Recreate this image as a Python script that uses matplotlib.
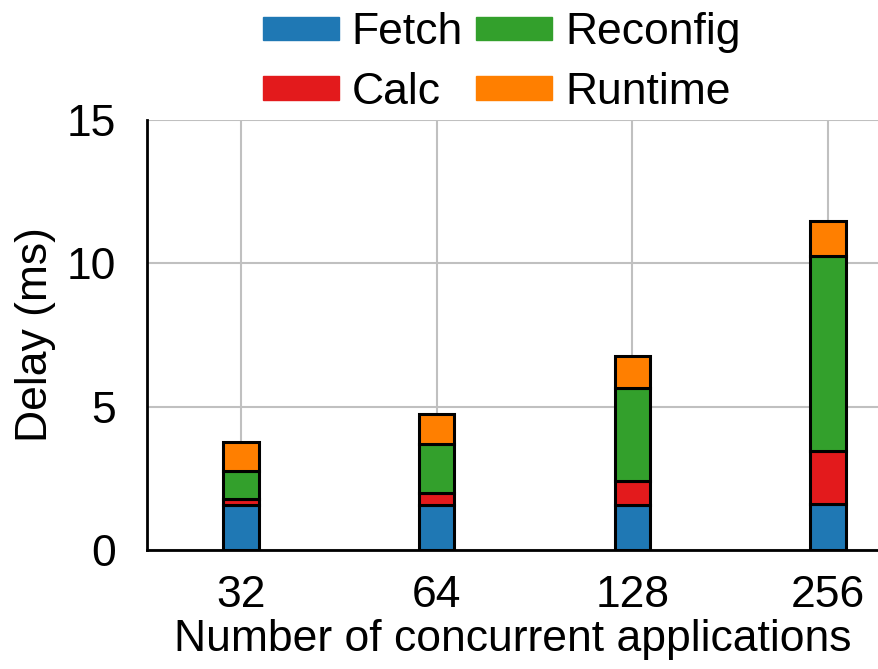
import numpy as np
import matplotlib
matplotlib.use("Agg")
import matplotlib.pyplot as plt
from matplotlib.patches import Patch

plt.rcParams['font.family'] = ['Liberation Sans', 'DejaVu Sans']

# delay breakdown per number of concurrent applications (ms)
apps = ['32', '64', '128', '256']
fetch = [1.56, 1.57, 1.58, 1.62]
calc = [0.21, 0.43, 0.84, 1.83]
reconfig = [0.99, 1.70, 3.24, 6.80]
runtime = [1.00, 1.06, 1.12, 1.24]

colors = {'Fetch': '#1f78b4', 'Calc': '#e31a1c',
          'Reconfig': '#33a02c', 'Runtime': '#ff7f00'}

fig = plt.figure(figsize=(8.79, 6.69), dpi=100)
ax = fig.add_axes([0.1672, 0.1779, 0.8328, 0.6427])

x = np.arange(len(apps))
width = 0.18
bottom = np.zeros(len(apps))
for name, vals in [('Fetch', fetch), ('Calc', calc),
                   ('Reconfig', reconfig), ('Runtime', runtime)]:
    ax.bar(x, vals, width, bottom=bottom, color=colors[name],
           edgecolor='black', linewidth=2.2, zorder=3)
    bottom += np.array(vals)

ax.set_xlim(-0.48, 3.26)
ax.set_ylim(0, 15)
ax.set_yticks([0, 5, 10, 15])
ax.set_xticks(x)
ax.set_xticklabels(apps)
ax.tick_params(axis='both', length=0, labelsize=32)
ax.tick_params(axis='y', pad=22)
ax.tick_params(axis='x', pad=18)
ax.grid(True, color='#c0c0c0', linewidth=1.5, zorder=0)

for s in ['top', 'right']:
    ax.spines[s].set_visible(False)
for s in ['left', 'bottom']:
    ax.spines[s].set_linewidth(2)

ax.set_ylabel('Delay (ms)', fontsize=32, labelpad=8)
ax.set_xlabel('Number of concurrent applications', fontsize=32, labelpad=2)

handles = [Patch(facecolor=colors[n], edgecolor=colors[n], label=n)
           for n in ['Fetch', 'Calc', 'Reconfig', 'Runtime']]
fig.legend(handles=handles, loc='upper center', bbox_to_anchor=(0.571, 1.028),
           ncol=2, frameon=False, fontsize=32, handlelength=1.7,
           handleheight=0.45, handletextpad=0.3, columnspacing=0.3,
           labelspacing=0.42, borderpad=0.2)

fig.savefig('out.png', dpi=100)
